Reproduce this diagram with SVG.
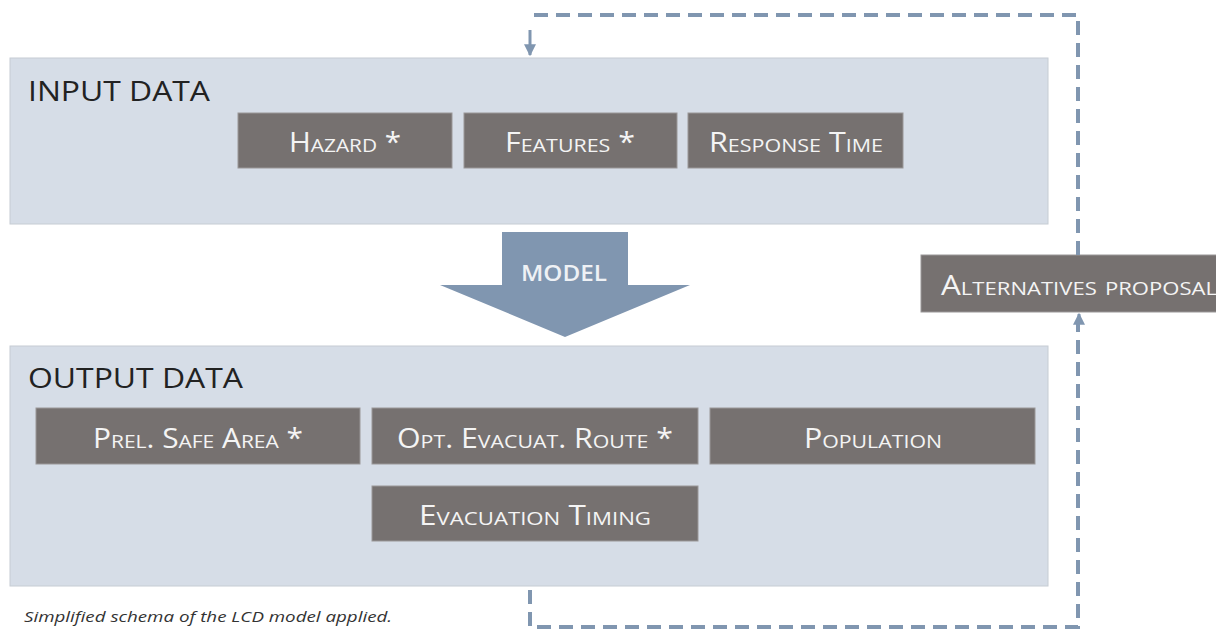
<svg xmlns="http://www.w3.org/2000/svg" width="1216" height="633" viewBox="0 0 1216 633">
<style>
.panel{fill:#d6dde7;stroke:#c6ccd3;stroke-width:1}
.box{fill:#767170;stroke:#9a9898;stroke-width:1}
.bt{font-family:"Open Sans","Liberation Sans",sans-serif;font-size:27px;fill:#f4f4f4;font-variant:small-caps}
.title{font-family:"Open Sans","Liberation Sans",sans-serif;font-size:28px;fill:#222}
.dash{fill:none;stroke:#8096b0;stroke-width:4;stroke-dasharray:14 8}
</style>
<defs>
<marker id="ah" viewBox="0 0 10 10" refX="9" refY="5" markerWidth="4" markerHeight="4" orient="auto">
<path d="M0,0 L10,5 L0,10 z" fill="#8096b0"/>
</marker>
</defs>
<g id="input-panel">
<rect class="panel" x="10" y="58" width="1038" height="166"/>
<text class="title" x="28" y="101" textLength="182" lengthAdjust="spacingAndGlyphs">INPUT DATA</text>
</g>
<g id="hazard"><rect class="box" x="238" y="113" width="214" height="55"/><text class="bt" x="289" y="152" textLength="112" lengthAdjust="spacingAndGlyphs">Hazard *</text></g>
<g id="features"><rect class="box" x="464" y="113" width="213" height="55"/><text class="bt" x="505" y="152" textLength="130" lengthAdjust="spacingAndGlyphs">Features *</text></g>
<g id="response-time"><rect class="box" x="688" y="113" width="215" height="55"/><text class="bt" x="709" y="152" textLength="174" lengthAdjust="spacingAndGlyphs">Response Time</text></g>
<g id="model">
<path d="M502,232 H628 V285 H690 L565,337 L440,285 H502 Z" fill="#8096b0"/>
<text x="521" y="281" font-family="Open Sans,Liberation Sans,sans-serif" font-size="21" font-weight="600" fill="#eef1f5" textLength="86" lengthAdjust="spacingAndGlyphs">MODEL</text>
</g>
<g id="output-panel">
<rect class="panel" x="10" y="346" width="1038" height="240"/>
<text class="title" x="28" y="388" textLength="215" lengthAdjust="spacingAndGlyphs">OUTPUT DATA</text>
</g>
<g id="prel-safe-area"><rect class="box" x="36" y="408" width="324" height="56"/><text class="bt" x="93" y="448" textLength="210" lengthAdjust="spacingAndGlyphs">Prel. Safe Area *</text></g>
<g id="opt-route"><rect class="box" x="372" y="408" width="326" height="56"/><text class="bt" x="397" y="448" textLength="276" lengthAdjust="spacingAndGlyphs">Opt. Evacuat. Route *</text></g>
<g id="population"><rect class="box" x="710" y="408" width="325" height="56"/><text class="bt" x="804" y="448" textLength="138" lengthAdjust="spacingAndGlyphs">Population</text></g>
<g id="evacuation-timing"><rect class="box" x="372" y="486" width="326" height="55"/><text class="bt" x="419" y="525" textLength="232" lengthAdjust="spacingAndGlyphs">Evacuation Timing</text></g>
<g id="alternatives"><rect class="box" x="921" y="255" width="300" height="57"/><text class="bt" x="941" y="295" textLength="276" lengthAdjust="spacingAndGlyphs">Alternatives proposal</text></g>
<g id="connectors">
<path class="dash" d="M1078,255 V15 H527"/>
<path d="M530,30 V55" stroke="#8096b0" stroke-width="3" marker-end="url(#ah)" fill="none"/>
<path class="dash" d="M530,590 V627 H1078 V324"/>
<path d="M1079,324 V314" stroke="#8096b0" stroke-width="3" marker-end="url(#ah)" fill="none"/>
</g>
<text x="24" y="622" font-family="Open Sans,Liberation Sans,sans-serif" font-size="15" font-style="italic" fill="#333" textLength="368" lengthAdjust="spacingAndGlyphs">Simplified schema of the LCD model applied.</text>
</svg>
